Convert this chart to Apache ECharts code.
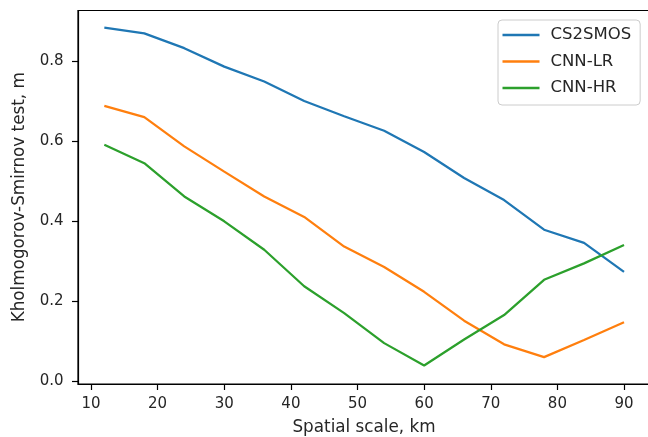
<!DOCTYPE html>
<html>
<head>
<meta charset="utf-8">
<script src="https://cdn.jsdelivr.net/npm/echarts@6/dist/echarts.min.js"></script>
<style>
html,body{margin:0;padding:0;background:#fff;}
#chart{width:648px;height:437px;}
</style>
</head>
<body>
<div id="chart"></div>
<script>
const scales = [12, 18, 24, 30, 36, 42, 48, 54, 60, 66, 72, 78, 84, 90];
const cs2smos = [0.883, 0.869, 0.832, 0.786, 0.749, 0.700, 0.662, 0.626, 0.573, 0.508, 0.453, 0.379, 0.346, 0.274];
const cnnLR = [0.688, 0.660, 0.587, 0.524, 0.462, 0.411, 0.337, 0.286, 0.224, 0.152, 0.093, 0.061, 0.104, 0.148];
const cnnHR = [0.591, 0.545, 0.462, 0.400, 0.329, 0.238, 0.171, 0.096, 0.040, 0.105, 0.166, 0.254, 0.295, 0.341];
const xTicks = [10, 20, 30, 40, 50, 60, 70, 80, 90];
const yTicks = [0.0, 0.2, 0.4, 0.6, 0.8];
const seriesNames = ['CS2SMOS', 'CNN-LR', 'CNN-HR'];
const colors = ['#1f77b4', '#ff7f0e', '#2ca02c'];

const font = 'DejaVu Sans';
const txt = '#262626';
const pair = (arr) => scales.map((x, i) => [x, arr[i]]);

const chart = echarts.init(document.getElementById('chart'), null, {renderer: 'canvas'});
chart.setOption({
  animation: false,
  backgroundColor: '#fff',
  textStyle: {fontFamily: font},
  grid: {
    left: 78, right: -2, top: 10.5, bottom: 53,
    show: true, borderColor: '#000', borderWidth: 1.2, backgroundColor: 'transparent',
    outerBoundsMode: 'none'
  },
  legend: {
    orient: 'vertical',
    left: 498, top: 20,
    padding: [6.5, 9, 8.5, 4.5],
    itemGap: 9.5,
    icon: 'rect',
    itemWidth: 37, itemHeight: 2.5,
    backgroundColor: 'rgba(255,255,255,0.8)',
    borderColor: '#cccccc', borderWidth: 1, borderRadius: 4,
    textStyle: {fontFamily: font, fontSize: 16.5, color: txt, padding: [0, 0, 0, 6]},
    data: seriesNames
  },
  xAxis: {
    type: 'value', min: 8.05, max: 93.9,
    name: 'Spatial scale, km', nameLocation: 'middle', nameGap: 35,
    nameTextStyle: {fontFamily: font, fontSize: 16.8, color: txt},
    axisLine: {show: true, onZero: false, lineStyle: {color: '#000', width: 1.2}},
    axisTick: {show: true, length: 6, lineStyle: {color: '#000', width: 1.2}, customValues: xTicks},
    axisLabel: {fontFamily: font, fontSize: 15, color: txt, margin: 13, customValues: xTicks},
    splitLine: {show: false}
  },
  yAxis: {
    type: 'value', min: -0.006, max: 0.926,
    name: 'Kholmogorov-Smirnov test, m', nameLocation: 'middle', nameGap: 50, nameRotate: 90,
    nameTextStyle: {fontFamily: font, fontSize: 16.8, color: txt},
    axisLine: {show: true, onZero: false, lineStyle: {color: '#000', width: 1.2}},
    axisTick: {show: true, length: 6, lineStyle: {color: '#000', width: 1.2}, customValues: yTicks},
    axisLabel: {fontFamily: font, fontSize: 15, color: txt, margin: 14.5, customValues: yTicks,
      formatter: (v) => v.toFixed(1)},
    splitLine: {show: false}
  },
  series: [cs2smos, cnnLR, cnnHR].map((arr, i) => ({
    name: seriesNames[i], type: 'line', data: pair(arr),
    symbol: 'none', smooth: false,
    lineStyle: {color: colors[i], width: 2.25},
    itemStyle: {color: colors[i]}
  }))
});
</script>
</body>
</html>
